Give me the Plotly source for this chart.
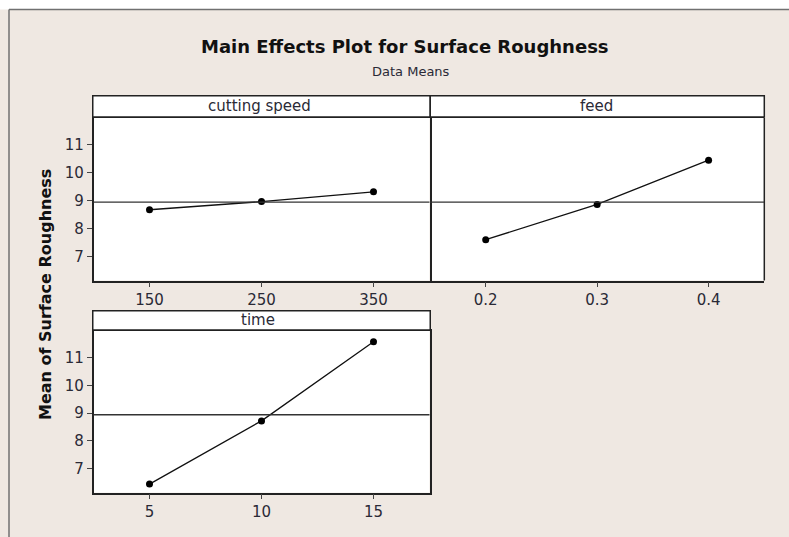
import plotly.graph_objects as go

# ---- data ----
speed_levels = [150, 250, 350]
speed_means = [8.67, 8.96, 9.31]
feed_levels = [0.2, 0.3, 0.4]
feed_means = [7.60, 8.86, 10.44]
time_levels = [5, 10, 15]
time_means = [6.45, 8.72, 11.56]
grand_mean = 8.94
y_ticks = [7, 8, 9, 10, 11]
panel_titles = ["cutting speed", "feed", "time"]

W, H = 789, 537
BG = "#EFE8E2"
FONT = "DejaVu Sans"
TXT = "#2A2A36"


def px(x):
    return x / W


def py(y):
    return 1 - y / H


fig = go.Figure()

series = [
    (speed_levels, speed_means, "x", "y"),
    (feed_levels, feed_means, "x2", "y2"),
    (time_levels, time_means, "x3", "y3"),
]
for xs, ys, xa, ya in series:
    fig.add_trace(go.Scatter(
        x=xs, y=ys, xaxis=xa, yaxis=ya, mode="lines+markers",
        line=dict(color="#111111", width=1.3),
        marker=dict(color="#000000", size=7),
        showlegend=False, hoverinfo="skip",
    ))

# domains
top_y = [py(280.5), py(117.7)]
bot_y = [py(492.7), py(330.7)]
x_left = [px(93.5), px(429.5)]
x_right = [px(430.0), px(764.3)]

axis_common = dict(showgrid=False, zeroline=False, showline=True, linecolor="#222222",
                   linewidth=1.5, mirror=True, ticks="outside", ticklen=5,
                   tickcolor="#444444", tickfont=dict(family=FONT, size=15, color=TXT))
yrange = [6.14, 11.96]

fig.update_layout(
    width=W, height=H,
    margin=dict(l=0, r=0, t=0, b=0),
    paper_bgcolor=BG,
    plot_bgcolor="white",
    xaxis=dict(domain=x_left, anchor="y", range=[100, 400], tickvals=speed_levels, **axis_common),
    yaxis=dict(domain=top_y, anchor="x", range=yrange, tickvals=y_ticks, **axis_common),
    xaxis2=dict(domain=x_right, anchor="y2", range=[0.15, 0.45], tickvals=feed_levels,
                ticktext=[f"{v:.1f}" for v in feed_levels], **axis_common),
    yaxis2=dict(domain=top_y, anchor="x2", range=yrange, showticklabels=False, ticks="",
                showgrid=False, zeroline=False, showline=False),
    xaxis3=dict(domain=x_left, anchor="y3", range=[2.5, 17.5], tickvals=time_levels, **axis_common),
    yaxis3=dict(domain=bot_y, anchor="x3", range=yrange, tickvals=y_ticks, **axis_common),
)

shapes = []
# white band above frame and frame lines
shapes.append(dict(type="rect", xref="paper", yref="paper", x0=0, x1=1, y0=py(9.5), y1=1,
                   fillcolor="white", line=dict(width=0), layer="below"))
shapes.append(dict(type="line", xref="paper", yref="paper", x0=px(9), x1=1, y0=py(9.5), y1=py(9.5),
                   line=dict(color="#707070", width=1.5)))
shapes.append(dict(type="line", xref="paper", yref="paper", x0=px(9), x1=px(9), y0=0, y1=py(9.5),
                   line=dict(color="#707070", width=1.5)))
# right border of the feed panel
shapes.append(dict(type="line", xref="x2 domain", yref="y2 domain", x0=1, x1=1, y0=0, y1=1,
                   line=dict(color="#222222", width=1.5)))
# reference lines
for xa, ya in [("x", "y"), ("x2", "y2"), ("x3", "y3")]:
    shapes.append(dict(type="line", xref=f"{xa} domain", yref=ya, x0=0, x1=1,
                       y0=grand_mean, y1=grand_mean, line=dict(color="#333333", width=1.3)))
# strip headers
strip_top = (95.7, 117.0)
strip_bot = (310.7, 330.0)
for (x0, x1), (s0, s1) in [((92.75, 430.25), strip_top), ((430.25, 764.3), strip_top),
                           ((92.75, 430.25), strip_bot)]:
    shapes.append(dict(type="rect", xref="paper", yref="paper", x0=px(x0), x1=px(x1),
                       y0=py(s1), y1=py(s0), fillcolor="white",
                       line=dict(color="#222222", width=1.5)))
fig.update_layout(shapes=shapes)

annotations = [
    dict(text="<b>Main Effects Plot for Surface Roughness</b>", x=px(405), y=py(47),
         font=dict(family=FONT, size=18, color="#111111")),
    dict(text="Data Means", x=px(411), y=py(72), font=dict(family=FONT, size=13, color=TXT)),
    dict(text="<b>Mean of Surface Roughness</b>", x=px(45), y=py(295), textangle=-90,
         font=dict(family=FONT, size=16, color="#111111")),
    dict(text=panel_titles[0], x=px(259), y=py(106), font=dict(family=FONT, size=15, color=TXT)),
    dict(text=panel_titles[1], x=px(596), y=py(106), font=dict(family=FONT, size=15, color=TXT)),
    dict(text=panel_titles[2], x=px(258), y=py(320), font=dict(family=FONT, size=15, color=TXT)),
]
for a in annotations:
    a.update(xref="paper", yref="paper", showarrow=False, xanchor="center", yanchor="middle")
fig.update_layout(annotations=annotations)

fig.write_html("out.html", config={"displayModeBar": False},
               post_script="document.body.style.margin='0';document.body.style.overflow='hidden';")
